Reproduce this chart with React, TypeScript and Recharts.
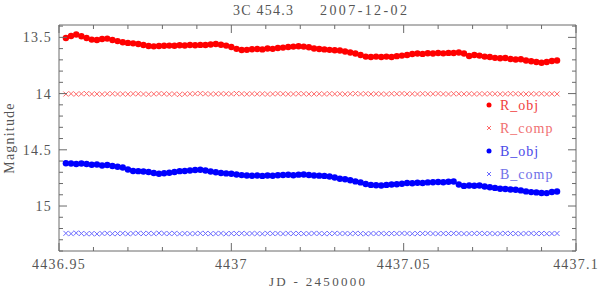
import React from 'react';
import { ScatterChart, Scatter, XAxis, YAxis, ReferenceArea } from 'recharts';

// ---- data (JD - 2450000, magnitudes) ----
const jd = [
  4436.952, 4436.9535, 4436.955, 4436.9565, 4436.958, 4436.9595, 4436.961, 4436.9625, 4436.964, 4436.9655,
  4436.967, 4436.9685, 4436.97, 4436.9715, 4436.973, 4436.9745, 4436.976, 4436.9775, 4436.979, 4436.9805,
  4436.982, 4436.9835, 4436.985, 4436.9865, 4436.988, 4436.9895, 4436.991, 4436.9925, 4436.994, 4436.9955,
  4436.997, 4436.9985, 4437.0, 4437.0015, 4437.003, 4437.0045, 4437.006, 4437.0075, 4437.009, 4437.0105,
  4437.012, 4437.0135, 4437.015, 4437.0165, 4437.018, 4437.0195, 4437.021, 4437.0225, 4437.024, 4437.0255,
  4437.027, 4437.0285, 4437.03, 4437.0315, 4437.033, 4437.0345, 4437.036, 4437.0375, 4437.039, 4437.0405,
  4437.042, 4437.0435, 4437.045, 4437.0465, 4437.048, 4437.0495, 4437.051, 4437.0525, 4437.054, 4437.0555,
  4437.057, 4437.0585, 4437.06, 4437.0615, 4437.063, 4437.0645, 4437.066, 4437.0675, 4437.069, 4437.0705,
  4437.072, 4437.0735, 4437.075, 4437.0765, 4437.078, 4437.0795, 4437.081, 4437.0825, 4437.084, 4437.0855,
  4437.087, 4437.0885, 4437.09, 4437.0915, 4437.093, 4437.0945,
];

const rObj = [
  13.506, 13.488, 13.475, 13.49, 13.506, 13.52, 13.524, 13.515, 13.511, 13.524,
  13.533, 13.544, 13.549, 13.553, 13.559, 13.568, 13.577, 13.58, 13.577, 13.575,
  13.573, 13.574, 13.57, 13.572, 13.568, 13.57, 13.567, 13.568, 13.564, 13.559,
  13.565, 13.573, 13.586, 13.602, 13.613, 13.611, 13.606, 13.604, 13.607, 13.599,
  13.602, 13.595, 13.591, 13.586, 13.582, 13.579, 13.582, 13.588, 13.599, 13.604,
  13.607, 13.611, 13.615, 13.617, 13.626, 13.635, 13.644, 13.657, 13.671, 13.675,
  13.671, 13.675, 13.671, 13.674, 13.667, 13.662, 13.657, 13.648, 13.644, 13.647,
  13.641, 13.644, 13.639, 13.642, 13.638, 13.639, 13.635, 13.644, 13.666, 13.657,
  13.662, 13.671, 13.675, 13.682, 13.686, 13.684, 13.693, 13.697, 13.695, 13.706,
  13.713, 13.719, 13.726, 13.719, 13.71, 13.706,
];

const rComp = [
  14.004, 14.001, 14.005, 14.002, 14.0, 14.004, 14.003, 14.006, 14.002, 14.001,
  14.004, 14.003, 14.005, 14.001, 14.002, 14.004, 14.006, 14.003, 14.0, 14.002,
  14.005, 14.003, 14.008, 14.004, 14.002, 14.001, 13.999, 14.002, 14.004, 14.003,
  14.001, 14.002, 14.003, 13.999, 14.002, 14.004, 14.001, 14.003, 14.002, 14.005,
  14.003, 14.0, 14.002, 14.004, 14.003, 14.001, 14.002, 14.004, 14.003, 14.002,
  14.004, 14.001, 14.003, 14.002, 14.005, 14.002, 14.0, 14.003, 14.001, 14.004,
  14.002, 14.003, 14.005, 14.001, 14.002, 13.999, 14.003, 14.002, 14.004, 14.001,
  14.003, 14.002, 14.0, 14.003, 14.004, 14.001, 14.002, 14.003, 14.001, 14.004,
  14.002, 14.003, 14.001, 14.002, 14.004, 14.003, 14.001, 14.002, 14.003, 14.004,
  14.002, 14.003, 14.001, 14.004, 14.002, 14.003,
];

const bObj = [
  14.619, 14.622, 14.626, 14.622, 14.626, 14.633, 14.631, 14.639, 14.635, 14.644,
  14.651, 14.657, 14.675, 14.688, 14.69, 14.693, 14.697, 14.706, 14.713, 14.709,
  14.704, 14.697, 14.69, 14.688, 14.684, 14.679, 14.678, 14.684, 14.693, 14.7,
  14.706, 14.71, 14.713, 14.719, 14.725, 14.728, 14.731, 14.728, 14.732, 14.728,
  14.731, 14.726, 14.724, 14.722, 14.726, 14.721, 14.719, 14.724, 14.728, 14.73,
  14.732, 14.737, 14.746, 14.758, 14.762, 14.771, 14.781, 14.79, 14.804, 14.812,
  14.815, 14.817, 14.812, 14.808, 14.806, 14.802, 14.795, 14.797, 14.793, 14.795,
  14.79, 14.789, 14.786, 14.789, 14.784, 14.782, 14.808, 14.821, 14.817, 14.82,
  14.817, 14.826, 14.833, 14.839, 14.846, 14.848, 14.853, 14.855, 14.861, 14.87,
  14.876, 14.879, 14.884, 14.885, 14.875, 14.871,
];

const bComp = [
  15.243, 15.246, 15.24, 15.244, 15.247, 15.245, 15.248, 15.244, 15.243, 15.246,
  15.245, 15.243, 15.247, 15.244, 15.242, 15.245, 15.243, 15.246, 15.241, 15.244,
  15.245, 15.243, 15.247, 15.244, 15.246, 15.245, 15.243, 15.244, 15.246, 15.245,
  15.243, 15.247, 15.244, 15.245, 15.243, 15.246, 15.244, 15.245, 15.247, 15.243,
  15.245, 15.244, 15.246, 15.243, 15.245, 15.244, 15.246, 15.245, 15.243, 15.244,
  15.246, 15.245, 15.243, 15.245, 15.244, 15.246, 15.243, 15.245, 15.247, 15.244,
  15.245, 15.243, 15.246, 15.244, 15.245, 15.243, 15.244, 15.246, 15.245, 15.244,
  15.243, 15.245, 15.246, 15.244, 15.245, 15.243, 15.244, 15.246, 15.245, 15.244,
  15.243, 15.245, 15.244, 15.246, 15.245, 15.243, 15.244, 15.245, 15.246, 15.244,
  15.243, 15.245, 15.244, 15.246, 15.245, 15.244,
];

const xDomain = [4436.95, 4437.1];
const yDomain = [13.39, 15.4];
const xTicks = [
  4436.95, 4436.96, 4436.97, 4436.98, 4436.99, 4437.0, 4437.01, 4437.02,
  4437.03, 4437.04, 4437.05, 4437.06, 4437.07, 4437.08, 4437.09, 4437.1,
];
const yTicks = [
  13.4, 13.5, 13.6, 13.7, 13.8, 13.9, 14.0, 14.1, 14.2, 14.3, 14.4,
  14.5, 14.6, 14.7, 14.8, 14.9, 15.0, 15.1, 15.2, 15.3, 15.4,
];
const xMajor = [4436.95, 4437.0, 4437.05, 4437.1];
const yMajor = [13.5, 14.0, 14.5, 15.0];

// ---- layout ----
const W = 600;
const H = 290;
const PLOT_LEFT = 59;
const PLOT_RIGHT = 576;
const PLOT_TOP = 25;
const PLOT_BOTTOM = 251;
const AXIS = '#6a6a6a';
const TXT = '#555';
const FONT = '"Liberation Serif", "DejaVu Serif", serif';

const isMajor = (v: number, list: number[]) => list.some((m) => Math.abs(m - v) < 1e-6);

const XTick = (p: any) => {
  const v = p.payload.value;
  const maj = isMajor(v, xMajor);
  const len = maj ? 8 : 4;
  const x = p.x;
  return (
    <g>
      <line x1={x} y1={PLOT_BOTTOM} x2={x} y2={PLOT_BOTTOM - len} stroke={AXIS} />
      <line x1={x} y1={PLOT_TOP} x2={x} y2={PLOT_TOP + len} stroke={AXIS} />
      {maj && (
        <text x={x} y={PLOT_BOTTOM + 18} textAnchor="middle" fontSize={14} fill={TXT}
          fontFamily={FONT} letterSpacing={1.2}>
          {String(+v.toFixed(2))}
        </text>
      )}
    </g>
  );
};

const YTick = (p: any) => {
  const v = p.payload.value;
  const maj = isMajor(v, yMajor);
  const len = maj ? 8 : 4;
  const y = p.y;
  return (
    <g>
      <line x1={PLOT_LEFT} y1={y} x2={PLOT_LEFT + len} y2={y} stroke={AXIS} />
      <line x1={PLOT_RIGHT} y1={y} x2={PLOT_RIGHT - len} y2={y} stroke={AXIS} />
      {maj && (
        <text x={PLOT_LEFT - 7} y={y + 5} textAnchor="end" fontSize={14} fill={TXT}
          fontFamily={FONT} letterSpacing={1.2}>
          {String(+v.toFixed(1))}
        </text>
      )}
    </g>
  );
};

const dot = (color: string) => (p: any) => (
  <circle cx={p.cx} cy={p.cy} r={3.2} fill={color} />
);
const cross = (color: string) => (p: any) => (
  <path
    d={`M${p.cx - 2.5},${p.cy - 2.5}L${p.cx + 2.5},${p.cy + 2.5}M${p.cx - 2.5},${p.cy + 2.5}L${p.cx + 2.5},${p.cy - 2.5}`}
    stroke={color}
    strokeWidth={1}
    fill="none"
  />
);

const series = [
  { name: 'R_obj', values: rObj, color: '#ff0000', text: '#f04040', kind: 'dot' },
  { name: 'R_comp', values: rComp, color: '#ff6a6a', text: '#f07070', kind: 'cross' },
  { name: 'B_obj', values: bObj, color: '#0000ff', text: '#4a4ae8', kind: 'dot' },
  { name: 'B_comp', values: bComp, color: '#6a6aff', text: '#7070e8', kind: 'cross' },
];

const legendY = [105, 128, 151, 174];

export default function App() {
  return (
    <div style={{ position: 'absolute', left: 0, top: 0, width: W, height: H }}>
      <ScatterChart width={W} height={H} margin={{ top: 25, right: 24, bottom: 0, left: 0 }}>
        <XAxis
          type="number"
          dataKey="x"
          domain={xDomain}
          ticks={xTicks}
          interval={0}
          height={39}
          axisLine={false}
          tickLine={false}
          tickSize={0}
          tickMargin={0}
          tick={XTick}
          allowDataOverflow
        />
        <YAxis
          type="number"
          dataKey="y"
          domain={yDomain}
          ticks={yTicks}
          interval={0}
          reversed
          width={59}
          axisLine={false}
          tickLine={false}
          tickSize={0}
          tickMargin={0}
          tick={YTick}
          allowDataOverflow
        />
        <ReferenceArea
          x1={xDomain[0]}
          x2={xDomain[1]}
          y1={yDomain[0]}
          y2={yDomain[1]}
          fill="none"
          stroke={AXIS}
          strokeWidth={1}
          ifOverflow="visible"
        />
        {series.map((s) => (
          <Scatter
            key={s.name}
            name={s.name}
            data={jd.map((x, i) => ({ x, y: s.values[i] }))}
            shape={s.kind === 'dot' ? dot(s.color) : cross(s.color)}
            isAnimationActive={false}
          />
        ))}
      </ScatterChart>
      <svg width={W} height={H} style={{ position: 'absolute', left: 0, top: 0, pointerEvents: 'none' }}>
        <text x={233} y={15} fontSize={14} fill={TXT} fontFamily={FONT} textLength={60} lengthAdjust="spacing">
          3C 454.3
        </text>
        <text x={320} y={15} fontSize={14} fill={TXT} fontFamily={FONT} textLength={87} lengthAdjust="spacing">
          2007-12-02
        </text>
        <text x={269} y={286} fontSize={13} fill={TXT} fontFamily={FONT} textLength={96} lengthAdjust="spacing">
          JD - 2450000
        </text>
        <text transform="translate(14,138) rotate(-90)" textAnchor="middle" fontSize={14} fill={TXT}
          fontFamily={FONT} letterSpacing={1.2}>
          Magnitude
        </text>
        {series.map((s, i) => (
          <g key={s.name}>
            {s.kind === 'dot' ? (
              <circle cx={489} cy={legendY[i]} r={2.5} fill={s.color} />
            ) : (
              <path
                d={`M487,${legendY[i] - 2}L491,${legendY[i] + 2}M487,${legendY[i] + 2}L491,${legendY[i] - 2}`}
                stroke={s.color}
              />
            )}
            <text x={500} y={legendY[i] + 5} fontSize={14} fill={s.text} fontFamily={FONT} letterSpacing={1}>
              {s.name}
            </text>
          </g>
        ))}
      </svg>
    </div>
  );
}
